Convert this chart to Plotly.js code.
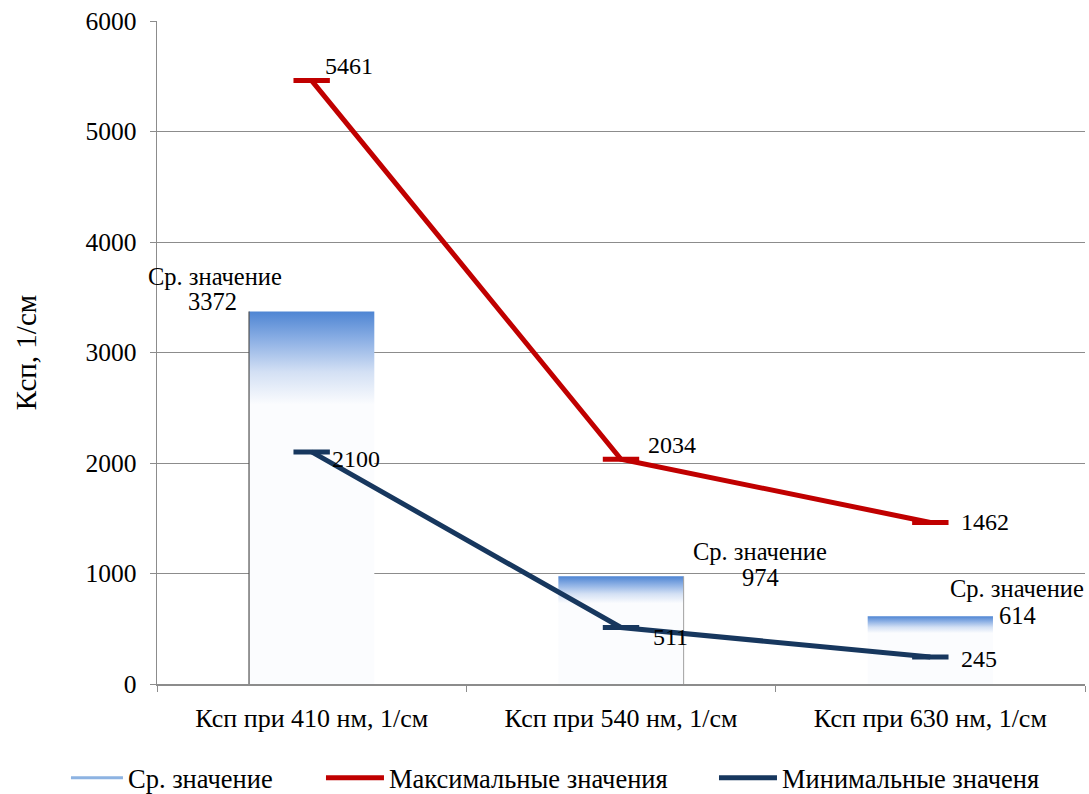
<!DOCTYPE html>
<html>
<head>
<meta charset="utf-8">
<script src="https://cdn.plot.ly/plotly-3.0.1.min.js"></script>
<style>
  html, body { margin: 0; padding: 0; background: #fff; }
  #chart { width: 1089px; height: 794px; }
</style>
</head>
<body>
<div id="chart"></div>
<script>
// Absorption coefficient at three wavelengths
const categories = ['Ксп при 410 нм, 1/см', 'Ксп при 540 нм, 1/см', 'Ксп при 630 нм, 1/см'];
const meanValues = [3372, 974, 614];
const maxValues = [5461, 2034, 1462];
const minValues = [2100, 511, 245];

const meanName = 'Ср. значение';
const maxName = 'Максимальные значения';
const minName = 'Минимальные значеня';

const FONT = '"Liberation Serif", "Times New Roman", serif';
const RED = '#C00000';
const NAVY = '#17375E';
const GRID = '#8C8C8C';
const barHalf = 0.2025;

const idx = categories.map((_, i) => i);
const traces = [];

// Mean values: gradient-filled columns (blue at the top fading to white)
meanValues.forEach((v, i) => {
  const x0 = idx[i] - barHalf, x1 = idx[i] + barHalf;
  traces.push({
    type: 'scatter', mode: 'lines',
    x: [x0, x1, x1, x0, x0],
    y: [0, 0, v, v, 0],
    fill: 'toself',
    fillgradient: {
      type: 'vertical',
      start: v * 0.75,
      stop: v,
      colorscale: [[0, '#FBFCFE'], [0.35, '#D3E0F4'], [0.7, '#8BAFE4'], [1, '#4E85D3']]
    },
    line: { width: 0, color: 'rgba(0,0,0,0)' },
    showlegend: false, hoverinfo: 'skip'
  });
});

// thin edge strokes on the first two columns
traces.push({
  type: 'scatter', mode: 'lines',
  x: [idx[0] - barHalf, idx[0] - barHalf], y: [0, meanValues[0]],
  line: { width: 1.2, color: '#505050' }, showlegend: false, hoverinfo: 'skip'
});
traces.push({
  type: 'scatter', mode: 'lines',
  x: [idx[1] + barHalf, idx[1] + barHalf], y: [0, meanValues[1]],
  line: { width: 1, color: '#A0A0A0' }, showlegend: false, hoverinfo: 'skip'
});

// legend entry for the mean columns
traces.push({
  type: 'scatter', mode: 'lines', x: [null], y: [null], legend: 'legend',
  name: meanName, line: { width: 3, color: '#8DB3E2' }, hoverinfo: 'skip'
});

// max / min polylines, with horizontal dash markers at each point
[[maxValues, maxName, RED, 'legend2'], [minValues, minName, NAVY, 'legend3']].forEach(([vals, name, color, lg]) => {
  traces.push({
    type: 'scatter', mode: 'lines', x: idx, y: vals, name: name, legend: lg,
    line: { width: 5, color: color }, hoverinfo: 'skip'
  });
  traces.push({
    type: 'scatter', mode: 'markers', x: idx, y: vals, showlegend: false,
    marker: { symbol: 'line-ew', size: 26, line: { width: 5, color: color } },
    hoverinfo: 'skip'
  });
});

// label offsets (px) relative to each point
const maxShift = [[11, 15], [25, 14], [29, 0]];
const minShift = [[18, -7], [30, -9], [29, -2]];
const meanNameShift = [[-97, 35], [139, 25], [87, 28]];
const meanValueShift = [[-99, 10], [139, -1], [87, 1]];

const annotations = [];
const addLabel = (x, y, text, shift, xanchor, size) => annotations.push({
  x: x, y: y, text: text, showarrow: false,
  xanchor: xanchor, yanchor: 'middle', xshift: shift[0], yshift: shift[1],
  font: { family: FONT, size: size, color: '#000' }
});
maxValues.forEach((v, i) => addLabel(idx[i], v, String(v), maxShift[i], 'left', 24));
minValues.forEach((v, i) => addLabel(idx[i], v, String(v), minShift[i], 'left', 24));
meanValues.forEach((v, i) => {
  addLabel(idx[i], v, meanName, meanNameShift[i], 'center', 24.5);
  addLabel(idx[i], v, String(v), meanValueShift[i], 'center', 24.5);
});

const legendBase = {
  orientation: 'h', xanchor: 'left', y: -0.142, yanchor: 'middle',
  font: { family: FONT, size: 26.5, color: '#000' },
  itemwidth: 52, bgcolor: 'rgba(0,0,0,0)'
};

const layout = {
  width: 1089, height: 794,
  paper_bgcolor: '#fff', plot_bgcolor: '#fff',
  margin: { l: 157, r: 4, t: 21, b: 110, autoexpand: false },
  font: { family: FONT, color: '#000' },
  showlegend: true,
  legend: Object.assign({}, legendBase, { x: -0.0981 }),
  legend2: Object.assign({}, legendBase, { x: 0.1767, itemwidth: 58 }),
  legend3: Object.assign({}, legendBase, { x: 0.6002, itemwidth: 58 }),
  xaxis: {
    range: [-0.5, 2.5], tickmode: 'array', tickvals: idx, ticktext: categories,
    ticks: '', showgrid: false, zeroline: false,
    showline: true, linecolor: GRID, linewidth: 1.5,
    tickfont: { family: FONT, size: 26, color: '#000' },
    ticklabelstandoff: 10,
    minor: { tickmode: 'linear', tick0: -0.5, dtick: 1, ticks: 'outside', ticklen: 6, tickcolor: GRID, showgrid: false },
    fixedrange: true
  },
  yaxis: {
    range: [0, 6000], tickmode: 'linear', tick0: 0, dtick: 1000,
    ticks: 'outside', ticklen: 6, tickcolor: GRID,
    showgrid: true, gridcolor: GRID, gridwidth: 1,
    zeroline: false, showline: true, linecolor: GRID, linewidth: 1.5,
    tickfont: { family: FONT, size: 25.5, color: '#000' },
    ticklabelstandoff: 8,
    title: { text: 'Ксп, 1/см', font: { family: FONT, size: 29, color: '#000' }, standoff: 40 },
    fixedrange: true
  },
  annotations: annotations
};

Plotly.newPlot('chart', traces, layout, { displayModeBar: false, staticPlot: true });
</script>
</body>
</html>
